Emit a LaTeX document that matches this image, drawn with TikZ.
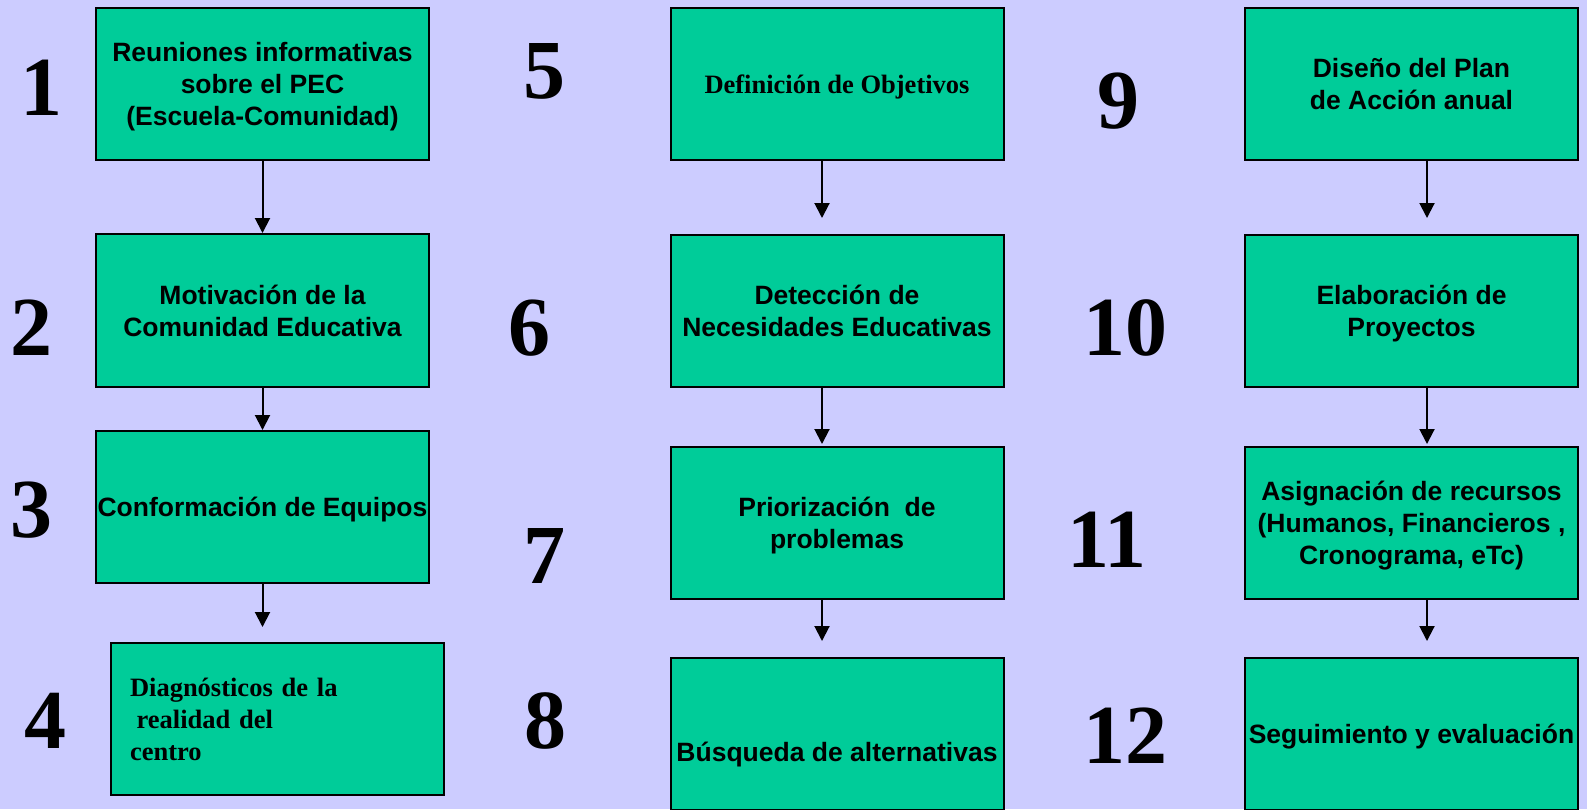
\documentclass[tikz,border=0pt]{standalone}
\usepackage{fontspec}
\setmainfont{Liberation Serif}
\setsansfont{Liberation Sans}
\usetikzlibrary{arrows.meta}
\definecolor{fondo}{HTML}{CCCCFF}
\definecolor{caja}{HTML}{00CC99}
\tikzset{
  paso/.style={draw, line width=2pt, fill=caja, minimum width=333pt, minimum height=152pt,
    inner sep=0pt, align=center, font=\sffamily\bfseries\fontsize{26.5}{32}\selectfont,
    execute at begin node={\rule{0pt}{25.5pt}},
    execute at end node={\rule[-6.5pt]{0pt}{6.5pt}}},
  lineas/.style={execute at begin node={\rule{0pt}{#1}}},
  serifa/.style={font=\rmfamily\bfseries\fontsize{26.5}{32}\selectfont},
  num/.style={anchor=base, font=\rmfamily\bfseries\fontsize{84}{84}\selectfont},
  flecha/.style={line width=2pt, -{Triangle[width=15pt,length=15pt]}}
}
\begin{document}
\begin{tikzpicture}[x=1pt,y=-1pt]
\useasboundingbox (0,0) rectangle (1587,809);
\fill[fondo] (0,0) rectangle (1587,809);
\clip (0,0) rectangle (1587,809);
% primera columna
\node[paso, lineas=89.5pt] (d1) at (262.5,84) {Reuniones informativas\\sobre el PEC\\(Escuela-Comunidad)};
\node[paso, lineas=57.5pt, minimum height=153pt] (d2) at (262.5,310.5) {Motivación de la\\Comunidad Educativa};
\node[paso] (d3) at (262.5,507) {Conformación de Equipos};
\node[paso, serifa, text width=295pt, align=left] (d4) at (277.5,719)
  {Diagnósticos de la\\\hspace*{.25em}realidad del\\centro};
% segunda columna
\node[paso, serifa] (d5) at (837,84) {Definición de Objetivos};
\node[paso, lineas=57.5pt] (d6) at (837,311) {Detección de\\Necesidades Educativas};
\node[paso, lineas=57.5pt] (d7) at (837,523) {Priorización\ \ de\\problemas};
\node[paso] (d8) at (837,734) {\raisebox{-17.5pt}[0pt][0pt]{Búsqueda de alternativas}};
% tercera columna
\node[paso, lineas=57.5pt] (d9) at (1411.5,84) {Diseño del Plan\\de Acción anual};
\node[paso, lineas=57.5pt] (d10) at (1411.5,311) {Elaboración de\\Proyectos};
\node[paso, lineas=89.5pt] (d11) at (1411.5,523) {Asignación de recursos\\(Humanos, Financieros ,\\Cronograma, eTc)};
\node[paso] (d12) at (1411.5,734) {Seguimiento y evaluación};
% numeros
\foreach \n/\x/\y in {1/41/115, 2/31/355, 3/31/537, 4/45/748,
  5/544/98, 6/529/355, 7/544/583, 8/545/748,
  9/1118/128, 10/1125/355, 11/1107/567, 12/1125/763}
{\node[num] (n\n) at (\x,\y) {\n};}
% flechas
\foreach \a/\b/\dx/\gap in {d1/d2/0pt/0pt, d2/d3/0pt/0pt, d3/d4/0pt/15pt,
  d5/d6/-15pt/16pt, d6/d7/-15pt/2pt, d7/d8/-15pt/16pt,
  d9/d10/15.5pt/16pt, d10/d11/15.5pt/2pt, d11/d12/15.5pt/16pt}
{\draw[flecha, shorten >=\gap] ([xshift=\dx]\a.south) -- ([xshift=\dx]\a.south |- \b.north);}
\end{tikzpicture}
\end{document}
